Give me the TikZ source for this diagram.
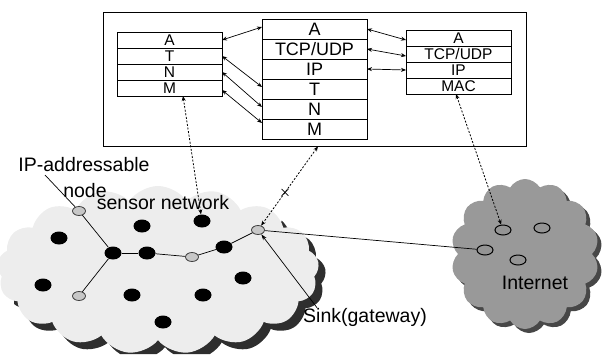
\documentclass[tikz,border=0pt]{standalone}
\usepackage{fontspec}
\setmainfont{Liberation Sans}
\usetikzlibrary{arrows.meta,shapes.symbols,shapes.misc,shapes.geometric,calc}
\begin{document}
\begin{tikzpicture}[x=1pt,y=-1pt,
  stackrow/.style={draw,line width=0.8pt,minimum width=105pt,inner sep=0pt,outer sep=0pt},
  lrow/.style={stackrow,minimum height=16pt,font=\fontsize{15.5}{15.5}\selectfont},
  mrow/.style={stackrow,minimum height=20pt,font=\fontsize{18}{18}\selectfont},
  dbl/.style={line width=0.7pt,{Stealth[length=5pt,width=4pt]}-{Stealth[length=5pt,width=4pt]}},
  dlink/.style={line width=0.8pt,dash pattern=on 2pt off 1.6pt,{Stealth[length=5pt,width=4pt]}-{Stealth[length=5pt,width=4pt]}},
  sn/.style={ellipse,fill=black,minimum width=17pt,minimum height=13pt,inner sep=0pt},
  ipn/.style={ellipse,draw=black!75,fill=black!22,line width=0.8pt,minimum width=13pt,minimum height=9pt,inner sep=0pt},
  inn/.style={ellipse,draw=black,fill=black!42,line width=1pt,minimum width=16pt,minimum height=10pt,inner sep=0pt},
  lbl/.style={font=\fontsize{19.5}{19.5}\selectfont,inner sep=0pt},
  wire/.style={line width=0.7pt},
  cloudy/.style={cloud,cloud ignores aspect,inner sep=0pt}
]
\useasboundingbox (0,0) rectangle (605,354);
\clip (0,0) rectangle (605,354);

% clouds
\begin{scope}
\clip (14,300) -- (250,300) -- (290,200) -- (400,200) -- (400,354) -- (14,354) -- cycle;
\node[cloudy,cloud puffs=17,cloud puff arc=110,minimum width=322pt,minimum height=168pt,fill=black!82] (snshadow) at (165,277) {};
\end{scope}
\node[cloudy,cloud puffs=17,cloud puff arc=110,minimum width=322pt,minimum height=168pt,fill=black!7] (sncloud) at (158,270) {};
\node[cloudy,cloud puffs=14,cloud puff arc=120,minimum width=148pt,minimum height=150pt,fill=black!72] (inshadow) at (529,258) {};
\node[cloudy,cloud puffs=14,cloud puff arc=120,minimum width=148pt,minimum height=150pt,fill=black!40] (incloud) at (525,254) {};

% outer box
\node[draw,line width=0.8pt,minimum width=423pt,minimum height=134pt,inner sep=0pt] (outer) at (314.5,79) {};

% left stack
\node[lrow] (L1) at (169.5,40) {A};
\node[lrow] (L2) at (169.5,56) {T};
\node[lrow] (L3) at (169.5,72) {N};
\node[lrow] (L4) at (169.5,88) {M};
% middle stack
\node[mrow] (M1) at (314.5,29) {A};
\node[mrow] (M2) at (314.5,49) {TCP/UDP};
\node[mrow] (M3) at (314.5,69) {IP};
\node[mrow] (M4) at (314.5,89) {T};
\node[mrow] (M5) at (314.5,109) {N};
\node[mrow] (M6) at (314.5,129) {M};
% right stack
\node[lrow] (R1) at (458.5,38) {A};
\node[lrow] (R2) at (458.5,54) {TCP/UDP};
\node[lrow] (R3) at (458.5,70) {IP};
\node[lrow] (R4) at (458.5,86) {MAC};

% stack arrows
\draw[dbl] (L1.east) -- ($(M1.west)+(0,-2)$);
\draw[dbl] (L2.east) -- ($(M4.west)+(0,-2)$);
\draw[dbl] (L3.east) -- ($(M5.west)+(0,-2)$);
\draw[dbl] ($(L4.east)+(0,2)$) -- ($(M6.west)+(0,-6)$);
\draw[dbl] (M1.east) -- ($(R1.west)+(0,2)$);
\draw[dbl] (M2.east) -- ($(R2.west)+(0,2)$);
\draw[dbl] (M3.east) -- (R3.west);

% sensor nodes
\node[ipn] (ip1) at (79,211) {};
\node[ipn] (ip2) at (192,257) {};
\node[ipn] (ip3) at (79,296) {};
\node[ipn] (sink) at (258,230) {};
\node[sn] (b1) at (59,238) {};
\node[sn] (b2) at (142,226) {};
\node[sn] (b3) at (202,221) {};
\node[sn] (b4) at (113,253) {};
\node[sn] (b5) at (147,253) {};
\node[sn] (b6) at (224,247) {};
\node[sn] (b7) at (43,285) {};
\node[sn] (b8) at (132,295) {};
\node[sn] (b9) at (203,295) {};
\node[sn] (b10) at (243,278) {};
\node[sn] (b11) at (163,322) {};
% internet nodes
\node[inn] (i1) at (503,230) {};
\node[inn] (i2) at (542,228) {};
\node[inn] (i3) at (485,250) {};
\node[inn] (i4) at (518,260) {};

% edges
\draw[wire] (ip1) -- (b4);
\draw[wire] (b4) -- (b5);
\draw[wire] (b5) -- (ip2);
\draw[wire] (ip2) -- (b6);
\draw[wire] (b6) -- (sink);
\draw[wire] (b4) -- (ip3);
\draw[wire] (sink) -- (i3);

% labels
\node[lbl] (tip) at (84,165) {IP-addressable};
\node[lbl] (tnode) at (85,191) {node};
\node[lbl] (tsn) at (163,203) {sensor network};
\node[lbl] (tsink) at (365,317) {Sink(gateway)};
\node[lbl] (tint) at (535,283) {Internet};

\coordinate (ipc) at (45,175);
\draw[wire] (ipc) -- (ip1);
\draw[wire,-{Stealth[length=6pt,width=4pt]}] ($(tsink.north west)+(14,0)$) -- (sink);

% dashed links
\draw[dlink] ($(L4.south)+(13.5,0)$) -- (b3);
\draw[dlink] ($(outer.south)+(3.5,0)$) -- node[pos=0.58,cross out,draw,solid,line width=0.8pt,minimum size=6pt,inner sep=0pt]{} (sink);
\draw[dlink] ($(R4.south)+(-2.5,0)$) -- (i1);
\end{tikzpicture}
\end{document}
